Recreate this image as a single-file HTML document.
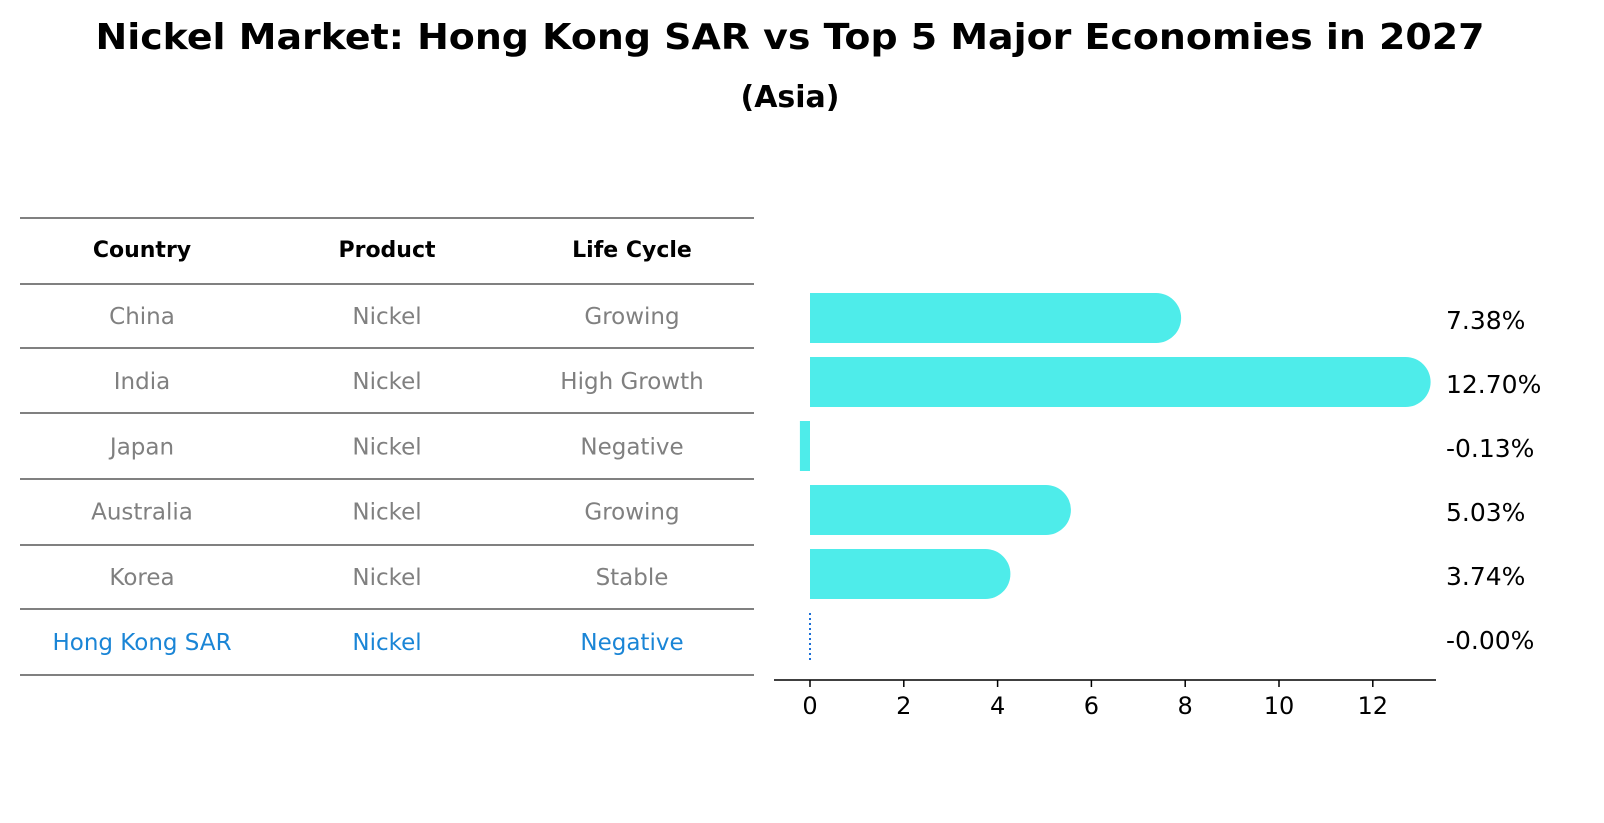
<!DOCTYPE html>
<html><head><meta charset="utf-8"><style>
html,body{margin:0;padding:0;background:#fff;overflow:hidden;width:1604px;height:823px}
svg{display:block}
</style></head><body>
<svg width="1604" height="823" viewBox="0 0 1604 823" xmlns="http://www.w3.org/2000/svg">
<text x="790" y="49" text-anchor="middle" font-size="36" font-weight="bold" font-family="DejaVu Sans, sans-serif" textLength="1389" lengthAdjust="spacingAndGlyphs">Nickel Market: Hong Kong SAR vs Top 5 Major Economies in 2027</text>
<text x="790" y="107" text-anchor="middle" font-size="30" font-weight="bold" font-family="DejaVu Sans, sans-serif">(Asia)</text>
<g id="table" font-family="DejaVu Sans, sans-serif"></g>
<g id="bars" font-family="DejaVu Sans, sans-serif"></g>
</svg>
<script>
const countries=["China","India","Japan","Australia","Korea","Hong Kong SAR"];
const products=["Nickel","Nickel","Nickel","Nickel","Nickel","Nickel"];
const lifeCycles=["Growing","High Growth","Negative","Growing","Stable","Negative"];
const growth=[7.38,12.70,-0.13,5.03,3.74,-0.00];
const xTicks=[0,2,4,6,8,10,12];
const NS="http://www.w3.org/2000/svg";
function mk(tag,attrs,parent){const e=document.createElementNS(NS,tag);for(const k in attrs)e.setAttribute(k,attrs[k]);parent.appendChild(e);return e;}
const tbl=document.getElementById('table');
const lines=[218,284,348,413,479,545,609,675];
lines.forEach(y=>{const l=mk('line',{x1:20,x2:754,y1:y,y2:y,stroke:'#000','stroke-width':1},tbl);

});
const colX=[142,387,632];
["Country","Product","Life Cycle"].forEach((h,i)=>{const t=mk('text',{x:colX[i],y:257,'text-anchor':'middle','font-size':22,'font-weight':'bold'},tbl);t.textContent=h;

});
const rowY=i=>316+i*65.2;
countries.forEach((c,i)=>{const col=i===countries.length-1?'#1a85d6':'#808080';
[c,products[i],lifeCycles[i]].forEach((v,j)=>{const t=mk('text',{x:colX[j],y:rowY(i)+8,'text-anchor':'middle','font-size':23,fill:col},tbl);t.textContent=v;

});});
const g=document.getElementById('bars');
const x0=810,ppu=46.9;const X=v=>x0+v*ppu;
const barY=i=>318+i*64;const bh=50;
const ax=mk('line',{x1:774,x2:1436,y1:680,y2:680,stroke:'#000','stroke-width':1.5},g);


xTicks.forEach(t=>{const tk=mk('line',{x1:X(t),x2:X(t),y1:680,y2:687,stroke:'#000','stroke-width':1.5},g);


const tx=mk('text',{x:X(t),y:714,'text-anchor':'middle','font-size':24},g);tx.textContent=t;

});
growth.forEach((v,i)=>{const cy=barY(i);
if(i===countries.length-1){const l=mk('line',{x1:x0,x2:x0,y1:cy-25,y2:cy+25,stroke:'#1a6fd6','stroke-width':2,'stroke-dasharray':'2,3'},g);

}
else if(v<0){const r=mk('rect',{x:X(v)-4,y:cy-25,width:x0-X(v)+4,height:bh,fill:'#4eecea'},g);

}
else{const p=mk('path',{d:`M${x0},${cy-25}H${X(v)}A25,25 0 0 1 ${X(v)},${cy+25}H${x0}Z`,fill:'#4eecea'},g);

}
const t=mk('text',{x:1446,y:cy+11,'font-size':25},g);t.textContent=v.toFixed(2)+'%';
if(v===0&&i===countries.length-1)t.textContent='-0.00%';

});
</script>
</body></html>
